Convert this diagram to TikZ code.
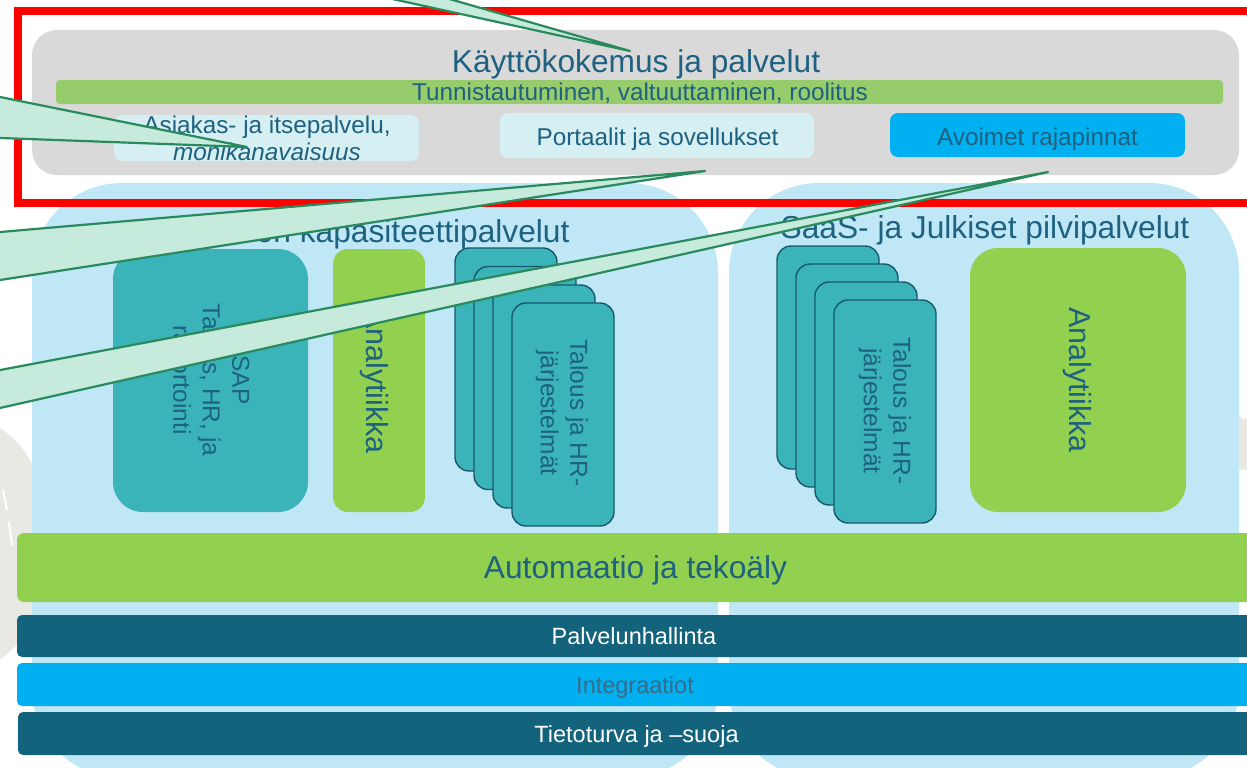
\documentclass[tikz,border=0pt]{standalone}
\usepackage{fontspec}
\setmainfont{Liberation Sans}
\definecolor{txt}{HTML}{1E6180}
\definecolor{graybox}{HTML}{D9D9D9}
\definecolor{greenbar}{HTML}{97CC6C}
\definecolor{lightcyan}{HTML}{D5EFF2}
\definecolor{brightblue}{HTML}{00B0F0}
\definecolor{skyblue}{HTML}{BFE7F6}
\definecolor{cteal}{HTML}{3AB4B9}
\definecolor{tealborder}{HTML}{17596B}
\definecolor{lime}{HTML}{92D050}
\definecolor{darkbar}{HTML}{13637C}
\definecolor{integtxt}{HTML}{3A6A8A}
\definecolor{wedgefill}{HTML}{C6EBDC}
\definecolor{wedgeline}{HTML}{2A8A5E}
\definecolor{road}{HTML}{EAE8E2}
\definecolor{framered}{HTML}{FF0000}
\tikzset{
  every node/.style={inner sep=0pt, outer sep=0pt},
  boxnw/.style={anchor=north west},
  panel/.style={boxnw, fill=skyblue, rounded corners=90pt},
  card/.style={boxnw, minimum width=102pt, minimum height=223pt, fill=cteal, draw=tealborder, line width=1.4pt, rounded corners=14pt},
  bar/.style={boxnw, minimum width=1243pt},
  hd/.style={anchor=base, text=txt, font=\fontsize{31.7}{38}\selectfont},
  mid/.style={anchor=base, text=txt, font=\fontsize{24.3}{29}\selectfont},
  lowtxt/.style={anchor=base, font=\fontsize{23.5}{28}\selectfont},
  rot/.style={rotate=-90, align=center, text=txt, font=\fontsize{24.5}{29.5}\selectfont},
  wedge/.style={fill=wedgefill, draw=wedgeline, line width=2.2pt, line join=round}
}
\begin{document}
\begin{tikzpicture}[x=1pt,y=-1pt]
\clip (0,0) rectangle (1247,768);
\fill[white] (0,0) rectangle (1247,768);
% background road picture
\fill[road] (0,428) .. controls (18,440) and (30,456) .. (34,470) -- (34,630) -- (0,660) -- cycle;
\draw[white, line width=2pt, line cap=round] (3,490) -- (7,510);
\draw[white, line width=2pt, line cap=round] (9,522) -- (12,545);
\fill[road] (1238,412) .. controls (1242,420) .. (1247,418) -- (1247,470) -- (1238,470) -- cycle;
% panels
\node[panel, minimum width=686pt, minimum height=595pt] (leftpanel) at (32,183) {};
\node[panel, minimum width=510pt, minimum height=595pt] (rightpanel) at (729,183) {};
\node[hd] (lefthead) at (383,242) {Valtion kapasiteettipalvelut};
\node[hd] (righthead) at (985,238) {SaaS- ja Julkiset pilvipalvelut};
% SAP
\node[boxnw, fill=cteal, rounded corners=30pt, minimum width=195pt, minimum height=263pt] (sap) at (113,249) {};
\node[rot] (saptext) at (209,380) {SAP\\Talous, HR, ja\\raportointi};
% analytics left
\node[boxnw, fill=lime, rounded corners=15pt, minimum width=92pt, minimum height=263pt] (anl) at (333,249) {};
\node[rot, font=\fontsize{30.5}{36}\selectfont] (anltext) at (374.5,381) {Analytiikka};
% cards left
\node[card] (lc1) at (455,248) {};
\node[card] (lc2) at (474,266.5) {};
\node[card] (lc3) at (493,285) {};
\node[card] (lc4) at (512,303) {};
\node[rot] (lctext) at (562,413) {Talous ja HR-\\järjestelmät};
% cards right
\node[card] (rc1) at (777,246) {};
\node[card] (rc2) at (796,264) {};
\node[card] (rc3) at (815,282) {};
\node[card] (rc4) at (834,300) {};
\node[rot] (rctext) at (885,411) {Talous ja HR-\\järjestelmät};
% analytics right
\node[boxnw, fill=lime, rounded corners=28pt, minimum width=216pt, minimum height=264pt] (anr) at (970,248) {};
\node[rot, font=\fontsize{30.5}{36}\selectfont] (anrtext) at (1077,380) {Analytiikka};
% bottom bars
\node[bar, fill=lime, rounded corners=7pt, minimum height=69pt] (auto) at (17,533) {};
\node[hd] (autotext) at (635.5,578) {Automaatio ja tekoäly};
\node[bar, fill=darkbar, rounded corners=5pt, minimum height=42pt] (palv) at (17,615) {};
\node[lowtxt, text=white] (palvtext) at (634,644) {Palvelunhallinta};
\node[bar, fill=brightblue, rounded corners=5pt, minimum height=43pt] (integ) at (17,663) {};
\node[lowtxt, text=integtxt] (integtext) at (635,693) {Integraatiot};
\node[bar, fill=darkbar, rounded corners=5pt, minimum height=43pt] (tieto) at (18,712) {};
\node[lowtxt, text=white] (tietotext) at (636.5,742) {Tietoturva ja –suoja};
% top gray area
\node[boxnw, fill=graybox, rounded corners=25pt, minimum width=1207pt, minimum height=145pt] (topbox) at (32,30) {};
\node[hd] (toptext) at (636,73) {Käyttökokemus ja palvelut};
\node[boxnw, fill=greenbar, rounded corners=4pt, minimum width=1167pt, minimum height=24pt] (tunn) at (56,80) {};
\node[mid] (tunntext) at (640,100.5) {Tunnistautuminen, valtuuttaminen, roolitus};
\node[boxnw, fill=lightcyan, rounded corners=8pt, minimum width=305pt, minimum height=46pt] (asiak) at (114,115) {};
\node[mid] (asiak1) at (267,133) {Asiakas- ja itsepalvelu,};
\node[mid, font=\fontsize{24.3}{29}\selectfont\itshape] (asiak2) at (267,160) {monikanavaisuus};
\node[boxnw, fill=lightcyan, rounded corners=8pt, minimum width=314pt, minimum height=45pt] (port) at (500,113) {};
\node[mid] (porttext) at (657.5,145) {Portaalit ja sovellukset};
\node[boxnw, fill=brightblue, rounded corners=8pt, minimum width=295pt, minimum height=44pt] (avo) at (890,113) {};
\node[mid] (avotext) at (1037.5,145) {Avoimet rajapinnat};
% red frame
\draw[framered, line width=7.5pt] (18,11) rectangle (1265,203);
% callout wedges
\coordinate (t1) at (630,51);
\coordinate (t2) at (247,147);
\coordinate (t3) at (705,171);
\coordinate (t4) at (1048,172);
\draw[wedge] (t1) -- (214,-40) -- (314,-40) -- cycle;
\draw[wedge] (t2) -- (-40,88.9) -- (-40,136.5) -- cycle;
\draw[wedge] (t3) -- (-40,235.5) -- (-40,286.2) -- cycle;
\draw[wedge] (t4) -- (-40,377.6) -- (-40,417) -- cycle;
\end{tikzpicture}
\end{document}
